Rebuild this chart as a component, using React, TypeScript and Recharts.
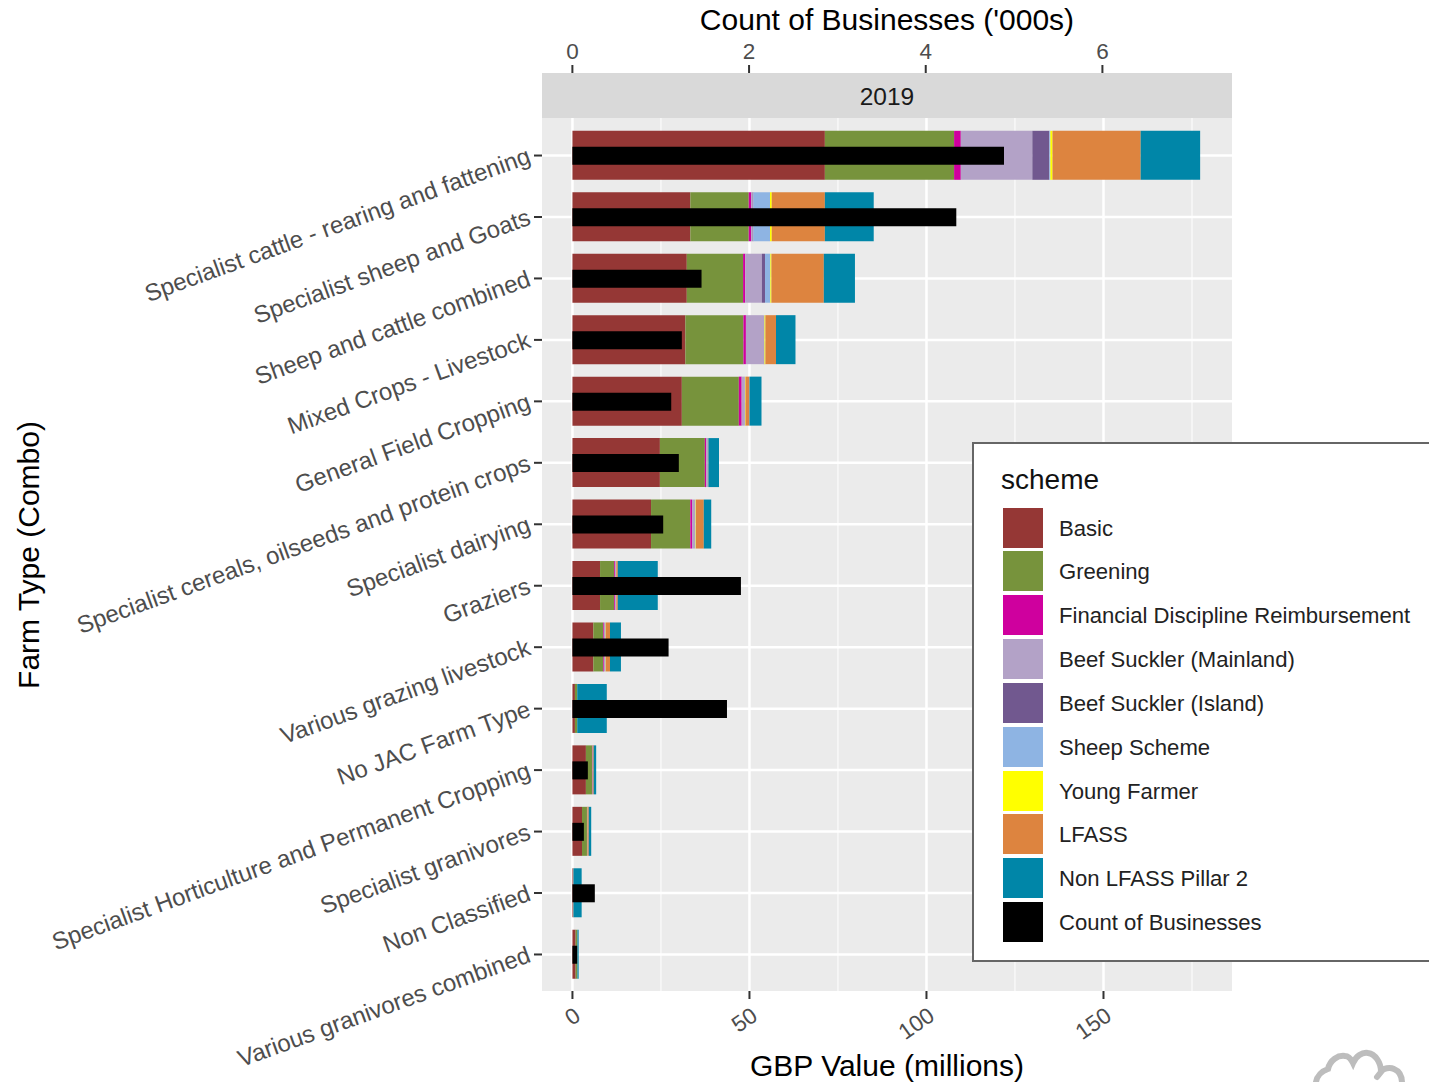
import { BarChart, Bar, XAxis, YAxis, CartesianGrid } from 'recharts'

const FARM_TYPES = [
  'Specialist cattle - rearing and fattening',
  'Specialist sheep and Goats',
  'Sheep and cattle combined',
  'Mixed Crops - Livestock',
  'General Field Cropping',
  'Specialist cereals, oilseeds and protein crops',
  'Specialist dairying',
  'Graziers',
  'Various grazing livestock',
  'No JAC Farm Type',
  'Specialist Horticulture and Permanent Cropping',
  'Specialist granivores',
  'Non Classified',
  'Various granivores combined',
]

const BASIC = [71.3, 33.3, 32.3, 31.9, 30.9, 24.7, 22.2, 7.8, 5.9, 0.7, 3.8, 2.7, 0.25, 0.9]
const GREENING = [36.5, 16.5, 15.9, 16.4, 16.1, 12.7, 11.1, 4.0, 2.8, 0.6, 1.8, 1.4, 0.05, 0.45]
const FDR = [1.9, 0.7, 0.6, 0.7, 0.8, 0.4, 0.5, 0.3, 0.2, 0, 0.1, 0.05, 0, 0]
const BEEF_MAINLAND = [20.2, 0.4, 4.7, 5.1, 0.9, 0.4, 0.9, 0.2, 0.4, 0, 0.05, 0.05, 0, 0]
const BEEF_ISLAND = [4.8, 0.2, 0.9, 0.05, 0, 0.05, 0, 0, 0, 0, 0, 0, 0, 0]
const SHEEP = [0.3, 4.7, 1.5, 0.1, 0.05, 0.05, 0.1, 0.05, 0.05, 0, 0, 0.02, 0, 0]
const YOUNG_FARMER = [0.6, 0.5, 0.3, 0.25, 0.15, 0.05, 0.1, 0.05, 0.05, 0, 0, 0.02, 0, 0]
const LFASS = [24.9, 15.0, 14.8, 3.0, 1.1, 0.05, 2.2, 0.4, 1.2, 0.05, 0.25, 0.36, 0, 0.05]
const NON_LFASS = [16.8, 13.8, 8.8, 5.5, 3.4, 3.0, 2.1, 11.3, 3.1, 8.35, 0.7, 0.7, 2.3, 0.35]
const COUNT = [4.886, 4.346, 1.462, 1.239, 1.119, 1.205, 1.028, 1.908, 1.089, 1.75, 0.175, 0.13, 0.254, 0.054]

const SCHEMES = [
  { name: 'Basic', values: BASIC, color: '#953735' },
  { name: 'Greening', values: GREENING, color: '#77933C' },
  { name: 'Financial Discipline Reimbursement', values: FDR, color: '#CF009E' },
  { name: 'Beef Suckler (Mainland)', values: BEEF_MAINLAND, color: '#B3A2C7' },
  { name: 'Beef Suckler (Island)', values: BEEF_ISLAND, color: '#71588F' },
  { name: 'Sheep Scheme', values: SHEEP, color: '#8EB4E3' },
  { name: 'Young Farmer', values: YOUNG_FARMER, color: '#FFFF00' },
  { name: 'LFASS', values: LFASS, color: '#DD843F' },
  { name: 'Non LFASS Pillar 2', values: NON_LFASS, color: '#0086A8' },
]
const LEGEND_ITEMS = [...SCHEMES, { name: 'Count of Businesses', color: '#000' }]

const data = FARM_TYPES.map((farm, i) => {
  const row: Record<string, string | number> = { farm, count: COUNT[i] }
  SCHEMES.forEach((s) => {
    row[s.name] = s.values[i]
  })
  return row
})

const VALUE_TICKS = [0, 50, 100, 150]
const VALUE_MINOR = [25, 75, 125, 175]
const COUNT_TICKS = [0, 2, 4, 6]
const VALUE_DOMAIN = [-8.6, 186.3]
const COUNT_DOMAIN = [-0.344, 7.467]

const FONT = '"Liberation Sans", Arial, sans-serif'
const TICK_COLOR = '#4D4D4D'

function FarmTick({ x, y, payload }: any) {
  return (
    <g>
      <line x1={x} x2={x + 8} y1={y} y2={y} stroke="#333" strokeWidth={2} />
      <text
        transform={`translate(${x - 2},${y + 7}) rotate(-20)`}
        textAnchor="end"
        fontSize={24}
        fill={TICK_COLOR}
        fontFamily={FONT}
      >
        {payload.value}
      </text>
    </g>
  )
}

function ValueTick({ x, y, payload }: any) {
  return (
    <g>
      <line x1={x} x2={x} y1={y - 8} y2={y} stroke="#333" strokeWidth={2} />
      <text
        transform={`translate(${x + 9.5},${y + 20}) rotate(-35)`}
        textAnchor="end"
        fontSize={22.5}
        fill={TICK_COLOR}
        fontFamily={FONT}
      >
        {payload.value}
      </text>
    </g>
  )
}

function CountTick({ x, y, payload }: any) {
  return (
    <g>
      <line x1={x} x2={x} y1={y} y2={y + 8} stroke="#333" strokeWidth={2} />
      <text x={x} y={y - 6} textAnchor="middle" fontSize={22.5} fill={TICK_COLOR} fontFamily={FONT}>
        {payload.value}
      </text>
    </g>
  )
}

function SchemeLegend() {
  return (
    <div
      style={{
        position: 'absolute',
        left: 972,
        top: 442,
        width: 470,
        height: 520,
        boxSizing: 'border-box',
        background: '#fff',
        border: '2px solid #666',
        fontFamily: FONT,
      }}
    >
      <div style={{ position: 'absolute', left: 27, top: 20, fontSize: 28, color: '#111', lineHeight: '32px' }}>
        scheme
      </div>
      {LEGEND_ITEMS.map((item, i) => (
        <div key={item.name} style={{ position: 'absolute', left: 29, top: 63 + i * 43.85, height: 41, display: 'flex', alignItems: 'center' }}>
          <div style={{ width: 40, height: 40, background: item.color, marginRight: 16 }} />
          <span style={{ fontSize: 22.1, color: '#222', whiteSpace: 'nowrap', position: 'relative', top: 1 }}>{item.name}</span>
        </div>
      ))}
    </div>
  )
}

function Cloud() {
  return (
    <svg width={100} height={40} style={{ position: 'absolute', left: 1310, top: 1042 }}>
      <path
        d="M6 40 C7 34 12 29 18 27 C20 18 28 13 35 14 C38 14 41 17 43 21 C46 14 52 10 58 11 C65 12 71 20 71 30 L67 35 M71 30 C73 26 80 25 84 27 C89 29 92 34 92 41"
        fill="none"
        stroke="#BDBDBD"
        strokeWidth={6}
        strokeLinecap="round"
      />
    </svg>
  )
}

export default function App() {
  return (
    <div style={{ position: 'absolute', left: 0, top: 0, width: 1429, height: 1082, overflow: 'hidden', background: '#fff' }}>
      <BarChart
        width={1429}
        height={1082}
        data={data}
        layout="vertical"
        margin={{ top: 0, right: 197, bottom: 0, left: 0 }}
      >
        <CartesianGrid fill="#EBEBEB" stroke="#fff" strokeWidth={1} xAxisId="value" yAxisId="farm" horizontal={false} verticalValues={VALUE_MINOR} syncWithTicks />
        <CartesianGrid stroke="#fff" strokeWidth={2.5} xAxisId="value" yAxisId="farm" syncWithTicks />
        <XAxis
          xAxisId="value"
          type="number"
          orientation="bottom"
          domain={VALUE_DOMAIN}
          ticks={VALUE_TICKS}
          height={91}
          axisLine={false}
          tickLine={false}
          tick={<ValueTick />}
          interval={0}
          label={{ value: 'GBP Value (millions)', position: 'insideBottom', offset: 6, fontSize: 30, fill: '#000', fontFamily: FONT }}
        />
        <XAxis
          xAxisId="count"
          type="number"
          orientation="top"
          domain={COUNT_DOMAIN}
          ticks={COUNT_TICKS}
          height={73}
          axisLine={false}
          tickLine={false}
          tick={<CountTick />}
          interval={0}
          label={{ value: "Count of Businesses ('000s)", position: 'insideTop', offset: 9, fontSize: 30, fill: '#000', fontFamily: FONT }}
        />
        <YAxis
          yAxisId="farm"
          type="category"
          dataKey="farm"
          width={542}
          axisLine={false}
          tickLine={false}
          interval={0}
          tick={<FarmTick />}
          padding={{ top: 51.8, bottom: 5.8 }}
          label={{ value: 'Farm Type (Combo)', angle: -90, position: 'insideLeft', offset: 0, dx: 28, dy: 23, fontSize: 30, fill: '#000', fontFamily: FONT, style: { textAnchor: 'middle' } }}
        />
        <YAxis
          yAxisId="countBand"
          type="category"
          dataKey="farm"
          hide
          width={0}
          padding={{ top: 51.8, bottom: 5.8 }}
        />
        {SCHEMES.map((s) => (
          <Bar
            key={s.name}
            dataKey={s.name}
            stackId="payments"
            xAxisId="value"
            yAxisId="farm"
            fill={s.color}
            barSize={49}
            isAnimationActive={false}
          />
        ))}
        <Bar
          dataKey="count"
          name="Count of Businesses"
          xAxisId="count"
          yAxisId="countBand"
          fill="#000"
          barSize={18}
          isAnimationActive={false}
        />
      </BarChart>
      <div
        style={{
          position: 'absolute',
          left: 542,
          top: 73,
          width: 690,
          height: 45,
          background: '#D9D9D9',
          textAlign: 'center',
          lineHeight: '48px',
          fontSize: 24.5,
          color: '#1A1A1A',
          fontFamily: FONT,
        }}
      >
        2019
      </div>
      <SchemeLegend />
      <Cloud />
    </div>
  )
}
